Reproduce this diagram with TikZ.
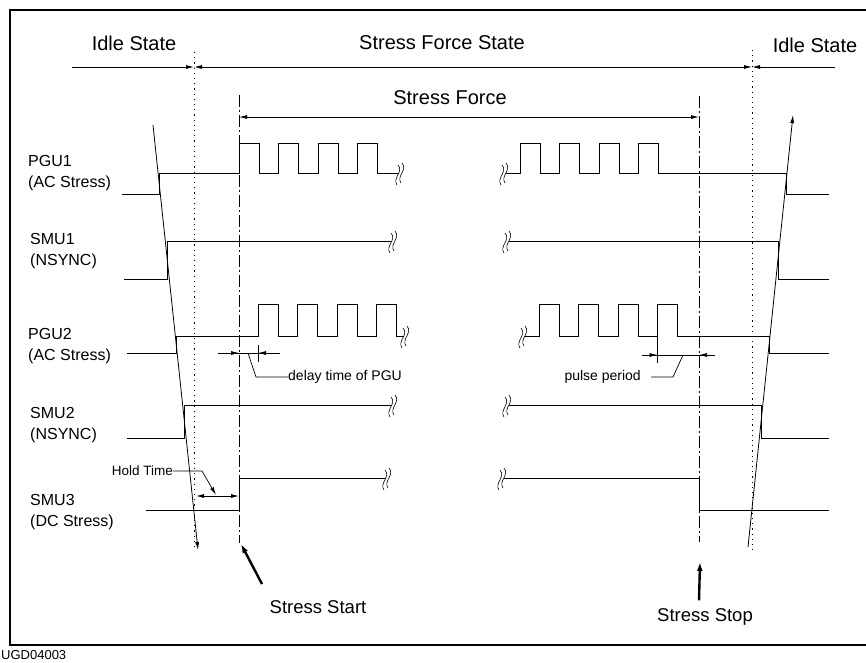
\documentclass[tikz,border=0pt]{standalone}
\usepackage{fontspec}
\setmainfont{Liberation Sans}
\usetikzlibrary{arrows.meta, calc}

\begin{document}
\begin{tikzpicture}[
        x=1pt, y=-1pt,
        every node/.style={align=left, inner sep=0pt},
        sig/.style={line width=0.9pt},
        cut/.style={line width=0.8pt, dash pattern=on 12pt off 3pt on 2pt off 3pt},
        dotv/.style={line width=0.8pt, dash pattern=on 1.2pt off 4pt},
        tip/.style={line width=0.8pt, -{Latex[length=8pt,width=4pt]}},
        tips/.style={line width=0.8pt, {Latex[length=8pt,width=4pt]}-{Latex[length=8pt,width=4pt]}},
        fat/.style={line width=2.4pt, -{Latex[length=9pt,width=6pt]}},
        head/.style={font=\fontsize{20}{24}\selectfont},
        lab/.style={font=\fontsize{16}{21}\selectfont, anchor=west},
        small/.style={font=\fontsize{14}{16}\selectfont},
        brk/.pic={
            \draw[line width=0.6pt] (1,-10) .. controls (7,-3) and (-5,3) .. (0,10);
            \draw[line width=0.6pt] (-3,-8) .. controls (3,-1) and (-9,5) .. (-4,12);
        }
    ]
    \useasboundingbox (0,0) rectangle (866,662);

    % frame
    \draw[line width=1.2pt] (866,10) -- (10,10) -- (10,645) -- (866,645);
    \node[font=\fontsize{13}{15}\selectfont, anchor=west] (fig) at (1,655) {UGD04003};

    % states
    \node[head] (idle1) at (134,43) {Idle State};
    \node[head] (force) at (442,43) {Stress Force State};
    \node[head] (idle2) at (815,45) {Idle State};
    \node[head] (span) at (450,98) {Stress Force};

    \coordinate (idleL) at (72,67);
    \coordinate (swOn) at (194,67);
    \coordinate (swOff) at (752,67);
    \coordinate (idleR) at (835,67);
    \draw[tip] (idleL) -- (swOn);
    \draw[tips] (swOn) -- (swOff);
    \draw[tip] (idleR) -- (swOff);

    \coordinate (fOn) at (239,117);
    \coordinate (fOff) at (699,117);
    \draw[tips] (fOn) -- (fOff);

    % guide lines
    \draw[dotv] (194,52) -- (194,548);
    \draw[dotv] (752,50) -- (752,550);
    \draw[cut] (fOn |- 0,95) -- (fOn |- 0,543);
    \draw[cut] (fOff |- 0,96) -- (fOff |- 0,542);

    % ramps
    \draw[tip] (153,125) -- (198,550);
    \draw[tip] (748,547) -- (793,115);

    % signal names
    \node[lab] (pgu1) at (28,173) {PGU1\\(AC Stress)};
    \node[lab] (smu1) at (30,251) {SMU1\\(NSYNC)};
    \node[lab] (pgu2) at (28,346) {PGU2\\(AC Stress)};
    \node[lab] (smu2) at (30,425) {SMU2\\(NSYNC)};
    \node[lab] (smu3) at (30,512) {SMU3\\(DC Stress)};

    % PGU1
    \draw[sig] (122,194) -- (159,194) -- (159,173)
        \foreach \x in {239,278.5,318,357.5} { -- (\x,173) -- (\x,143) -- ({\x+20},143) -- ({\x+20},173) }
        -- (399,173);
    \pic at (401,173) {brk};
    \draw[sig] (506,173)
        \foreach \x in {520,559.5,599,638.5} { -- (\x,173) -- (\x,143) -- ({\x+20},143) -- ({\x+20},173) }
        -- (786,173) -- (786,194) -- (829,194);
    \pic at (505,173) {brk};

    % SMU1
    \draw[sig] (124,279) -- (167,279) -- (167,241) -- (392,241);
    \pic at (394,241) {brk};
    \draw[sig] (509,241) -- (778,241) -- (778,279) -- (829,279);
    \pic at (508,241) {brk};

    % PGU2
    \draw[sig] (127,353) -- (176,353) -- (176,336)
        \foreach \x in {258,297.5,337,376.5} { -- (\x,336) -- (\x,304) -- ({\x+20},304) -- ({\x+20},336) }
        -- (404,336);
    \pic at (406,336) {brk};
    \draw[sig] (525,336)
        \foreach \x in {539,578.5,618,657.5} { -- (\x,336) -- (\x,304) -- ({\x+20},304) -- ({\x+20},336) }
        -- (769,336) -- (769,353) -- (829,353);
    \pic at (524,336) {brk};

    % SMU2
    \draw[sig] (127,438) -- (184,438) -- (184,405) -- (392,405);
    \pic at (394,405) {brk};
    \draw[sig] (509,405) -- (761,405) -- (761,438) -- (829,438);
    \pic at (508,405) {brk};

    % SMU3
    \draw[sig] (146,510) -- (239,510) -- (239,478) -- (386,478);
    \pic at (388,478) {brk};
    \draw[sig] (504,478) -- (699,478) -- (699,510) -- (829,510);
    \pic at (503,478) {brk};

    % delay time of PGU
    \coordinate (dA) at (239,353);
    \coordinate (dB) at (258,353);
    \draw[line width=0.7pt] (218,353) -- (280,353);
    \draw[line width=0.7pt] (dB |- 0,345) -- (dB |- 0,362);
    \draw[tip, line width=0.7pt] (222,353) -- (dA);
    \draw[tip, line width=0.7pt] (276,353) -- (dB);
    \node[small, anchor=west] (delay) at (288,377) {delay time of PGU};
    \draw[line width=0.7pt] (248,353) -- (256,377) -- (delay.west);

    % pulse period
    \coordinate (pA) at (657.5,355);
    \coordinate (pB) at (699,355);
    \draw[line width=0.7pt] (642,355) -- (715,355);
    \draw[line width=0.7pt] (pA |- 0,336) -- (pA |- 0,363);
    \draw[tip, line width=0.7pt] (643,355) -- (pA);
    \draw[tip, line width=0.7pt] (714,355) -- (pB);
    \node[small, anchor=east] (period) at (641,377) {pulse period};
    \draw[line width=0.7pt] (683,355) -- (673,377) -- ($(period.east)+(10,0)$);

    % hold time
    \coordinate (hA) at (196,496);
    \coordinate (hB) at (239,496);
    \draw[tips] (hA) -- (hB);
    \node[font=\fontsize{13.5}{15}\selectfont, anchor=east] (hold) at (173,471) {Hold Time};
    \draw[tip, line width=0.7pt] (hold.east) -- (202,471) -- (216,495);

    % start / stop
    \node[font=\fontsize{18.5}{22}\selectfont] (start) at (318,607) {Stress Start};
    \node[font=\fontsize{18.5}{22}\selectfont] (stop) at (705,617) {Stress Stop};
    \draw[fat] (262,584) -- (241,544);
    \draw[fat] (stop.north -| fOff) ++(0,-8) -- (700,562);
\end{tikzpicture}
\end{document}
